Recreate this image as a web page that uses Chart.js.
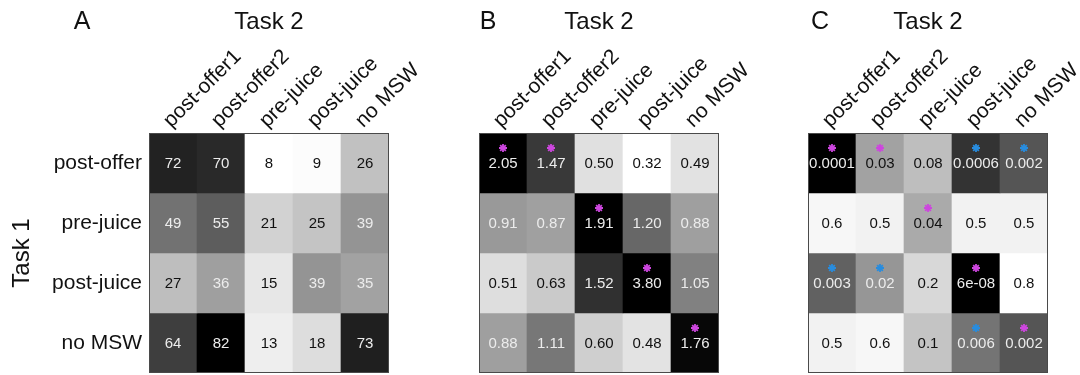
<!DOCTYPE html>
<html>
<head>
<meta charset="utf-8">
<script src="https://cdn.jsdelivr.net/npm/chart.js@4/dist/chart.umd.min.js"></script>
<style>
  html, body { margin: 0; padding: 0; background: #fff; overflow: hidden; }
  body { width: 1080px; height: 375px; position: relative; }
  canvas { position: absolute; top: 0; }
</style>
</head>
<body>
<canvas id="panelA" width="470" height="375" style="left:0px"></canvas>
<canvas id="panelB" width="400" height="375" style="left:400px"></canvas>
<canvas id="panelC" width="400" height="375" style="left:730px"></canvas>
<script>
const rowLabels = ['post-offer', 'pre-juice', 'post-juice', 'no MSW'];
const colLabels = ['post-offer1', 'post-offer2', 'pre-juice', 'post-juice', 'no MSW'];

// A: counts
const countsA = [
  [72, 70, 8, 9, 26],
  [49, 55, 21, 25, 39],
  [27, 36, 15, 39, 35],
  [64, 82, 13, 18, 73]
];
// B: ratios
const ratioB = [
  [2.05, 1.47, 0.50, 0.32, 0.49],
  [0.91, 0.87, 1.91, 1.20, 0.88],
  [0.51, 0.63, 1.52, 3.80, 1.05],
  [0.88, 1.11, 0.60, 0.48, 1.76]
];
const starsB = [
  ['m', 'm', '', '', ''],
  ['', '', 'm', '', ''],
  ['', '', '', 'm', ''],
  ['', '', '', '', 'm']
];
// C: p values
const pvalC = [
  [0.0001, 0.03, 0.08, 0.0006, 0.002],
  [0.6, 0.5, 0.04, 0.5, 0.5],
  [0.003, 0.02, 0.2, 6e-8, 0.8],
  [0.5, 0.6, 0.1, 0.006, 0.002]
];
const starsC = [
  ['m', 'm', '', 'b', 'b'],
  ['', '', 'm', '', ''],
  ['b', 'b', '', 'm', ''],
  ['', '', '', 'b', 'm']
];

const FONT = 'Liberation Sans, Arial, sans-serif';
const starColors = { m: 'rgb(205,70,222)', b: 'rgb(40,140,222)' };

function grayFor(v, lo, hi) {
  let t = (v - lo) / (hi - lo);
  t = Math.max(0, Math.min(1, t));
  const g = Math.round(255 * (1 - t));
  return `rgb(${g},${g},${g})`;
}

function fmtP(p) {
  if (p < 1e-4) {
    const s = p.toExponential(0).split('e');
    const e = parseInt(s[1], 10);
    return s[0] + 'e-' + String(Math.abs(e)).padStart(2, '0');
  }
  return String(p);
}

const panels = {
  panelA: {
    letter: 'A', letterDx: -67, showRows: true,
    padLeft: 4, padRight: 81,
    values: countsA,
    colorVal: v => v, lo: 8, hi: 82,
    text: v => String(v), whiteAbove: 30,
    stars: null
  },
  panelB: {
    letter: 'B', letterDx: 9, showRows: false,
    padLeft: 79, padRight: 81,
    values: ratioB,
    colorVal: v => v, lo: 0.32, hi: 1.8,
    text: v => v.toFixed(2), whiteAbove: 0.7,
    stars: starsB
  },
  panelC: {
    letter: 'C', letterDx: 12, showRows: false,
    padLeft: 78, padRight: 82,
    values: pvalC,
    colorVal: v => -Math.log10(v), lo: 0.1, hi: 4,
    text: fmtP, whiteAbove: 1.6,
    stars: starsC
  }
};

const cellPlugin = {
  id: 'cellText',
  afterDatasetsDraw(chart) {
    const p = panels[chart.canvas.id];
    const ctx = chart.ctx;
    const area = chart.chartArea;
    ctx.save();
    ctx.textAlign = 'center';
    ctx.textBaseline = 'middle';
    ctx.font = '15px ' + FONT;
    p.values.forEach((row, r) => {
      const meta = chart.getDatasetMeta(r);
      row.forEach((v, c) => {
        const bar = meta.data[c];
        const cx = bar.x;
        const cy = (bar.y + bar.base) / 2;
        ctx.fillStyle = p.colorVal(v) >= p.whiteAbove ? '#ececec' : '#111';
        ctx.fillText(p.text(v), cx, cy + 1);
        const s = p.stars ? p.stars[r][c] : '';
        if (s) {
          ctx.strokeStyle = starColors[s];
          ctx.lineWidth = 1.8;
          const sy = cy - 15, rad = 4;
          ctx.beginPath();
          for (let k = 0; k < 4; k++) {
            const a = k * Math.PI / 4;
            ctx.moveTo(cx - rad * Math.cos(a), sy - rad * Math.sin(a));
            ctx.lineTo(cx + rad * Math.cos(a), sy + rad * Math.sin(a));
          }
          ctx.stroke();
        }
      });
    });
    // frame around the matrix
    ctx.strokeStyle = '#4a4a4a';
    ctx.lineWidth = 1;
    ctx.strokeRect(area.left + 0.5, area.top + 0.5, area.right - area.left - 1, area.bottom - area.top - 1);
    // panel letter
    ctx.fillStyle = '#111';
    ctx.font = '25px ' + FONT;
    ctx.fillText(p.letter, area.left + p.letterDx, 22);
    ctx.restore();
  }
};

Object.keys(panels).forEach(id => {
  const p = panels[id];
  const datasets = p.values.map((row, r) => ({
    label: rowLabels[r],
    data: row.map(() => 1),
    backgroundColor: row.map(v => grayFor(p.colorVal(v), p.lo, p.hi)),
    borderWidth: 0,
    barPercentage: 1,
    categoryPercentage: 1
  }));

  new Chart(document.getElementById(id), {
    type: 'bar',
    data: { labels: colLabels, datasets: datasets },
    plugins: [cellPlugin],
    options: {
      responsive: false,
      animation: false,
      layout: { padding: { left: p.padLeft, right: p.padRight, top: 4, bottom: 2 } },
      plugins: {
        legend: { display: false },
        tooltip: { enabled: false }
      },
      scales: {
        x: {
          type: 'category',
          position: 'top',
          stacked: true,
          offset: true,
          grid: { display: false, drawTicks: false },
          border: { display: false },
          ticks: {
            font: { size: 21, family: FONT },
            color: '#111',
            minRotation: 45,
            maxRotation: 45,
            padding: 0,
            labelOffset: 12,
            autoSkip: false
          },
          title: {
            display: true,
            text: 'Task 2',
            color: '#111',
            font: { size: 24, family: FONT },
            padding: { top: 4, bottom: 0 }
          },
          afterFit(scale) {
            scale.height = 129;
            scale.paddingLeft = 0;
            scale.paddingRight = 0;
          }
        },
        y: {
          type: 'linear',
          display: p.showRows,
          stacked: true,
          reverse: true,
          min: 0,
          max: rowLabels.length,
          grid: { display: false, drawTicks: false },
          border: { display: false },
          afterBuildTicks(scale) {
            scale.ticks = rowLabels.map((_, i) => ({ value: i + 0.5 }));
          },
          ticks: {
            font: { size: 21, family: FONT },
            color: '#111',
            padding: 7,
            callback: (v, i) => rowLabels[i]
          },
          title: {
            display: true,
            text: 'Task 1',
            color: '#111',
            font: { size: 24, family: FONT },
            padding: { top: 4, bottom: 0 }
          },
          afterFit(scale) {
            scale.width = p.showRows ? 145 : 0;
            scale.paddingTop = 0;
            scale.paddingBottom = 0;
          }
        }
      }
    }
  });
});
</script>
</body>
</html>
